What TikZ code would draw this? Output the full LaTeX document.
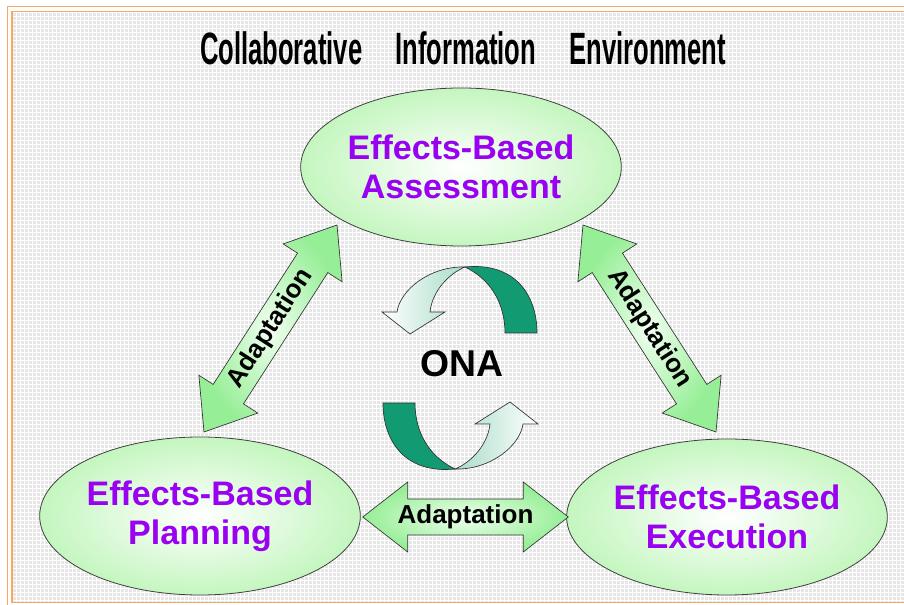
\documentclass[tikz,border=0pt]{standalone}
\usepackage{fontspec}
\setmainfont{Liberation Sans}
\usetikzlibrary{shapes.geometric,calc}
\definecolor{bgfill}{HTML}{E6E6E6}
\definecolor{frameorange}{HTML}{F8A860}
\definecolor{ellouter}{HTML}{C4F6BF}
\definecolor{arrowgreen}{HTML}{96EE96}
\definecolor{arrowlight}{HTML}{F0FFF0}
\definecolor{purpletext}{HTML}{9A00F2}
\definecolor{onadark}{HTML}{129A72}
\definecolor{onalight}{HTML}{A8DCC8}

\tikzset{
  phase/.style={ellipse, draw=black!75, line width=0.6pt, inner color=white, outer color=ellouter,
    inner sep=0pt, text=purpletext, font=\fontsize{25.5}{29.5}\selectfont\bfseries, align=center},
  blockarrow/.style={draw=black!80, line width=0.5pt, inner color=arrowlight, outer color=arrowgreen},
  adaptlabel/.style={font=\fontsize{19.5}{21}\selectfont\bfseries, inner sep=0pt},
  onadarkpiece/.style={fill=onadark, draw=black!80, line width=0.5pt},
  onalightpiece/.style={draw=black!80, line width=0.5pt},
}

\newcommand\adaptarrow[3]{%
  \path let \p1=($(#2)-(#1)$) in
    \pgfextra{\pgfmathsetmacro\blkangl{atan2(\y1,\x1)}\xdef\blkang{\blkangl}%
      \pgfmathsetmacro\blklenl{veclen(\x1,\y1)}\xdef\blklen{\blklenl}};
  \begin{scope}[shift={(#1)}, rotate=\blkang]
    \path[blockarrow] (0pt,0pt) -- (33.75pt,26.25pt) -- (33.75pt,13.5pt)
      -- ({\blklen pt-33.75pt},13.5pt) -- ({\blklen pt-33.75pt},26.25pt)
      -- ({\blklen pt},0pt) -- ({\blklen pt-33.75pt},-26.25pt) -- ({\blklen pt-33.75pt},-13.5pt)
      -- (33.75pt,-13.5pt) -- (33.75pt,-26.25pt) -- cycle;
  \end{scope}
  \node[adaptlabel, rotate=\blkang] (#3) at ($(#1)!0.5!(#2)$) {Adaptation};
}

\begin{document}
\begin{tikzpicture}[x=0.75pt,y=-0.75pt]
  % page and background
  \fill[white] (0,0) rectangle (904,605);
  \useasboundingbox (0,0) rectangle (904,605);
  \fill[bgfill] (12,11) rectangle (904,602);
  \begin{scope}
    \clip (12,11) rectangle (904,602);
    \draw[white, line width=0.5pt, step=3pt] (0,0) grid (904,605);
  \end{scope}
  \draw[frameorange, line width=1.1pt] (7.5,6.5) rectangle (915,615);
  \draw[frameorange, line width=1.1pt] (12,11.5) rectangle (910,602.5);

  % title
  \node[anchor=base, font=\fontsize{34}{40}\selectfont\bfseries, inner sep=0pt] (title) at (463,65)
    {\scalebox{0.565}[1]{Collaborative\hspace{44pt}Information\hspace{44pt}Environment}};

  % phases
  \node[phase, minimum width=226.5pt, minimum height=118.5pt] (assess) at (461,167) {Effects-Based\\Assessment};
  \node[phase, minimum width=229.5pt, minimum height=118.5pt] (plan) at (200,516) {Effects-Based\\Planning};
  \node[phase, minimum width=231pt, minimum height=117pt] (exec) at (727,517) {Effects-Based\\Execution};

  % arrow end points
  \coordinate (pl-up) at (204,432);
  \coordinate (as-left) at (337,225);
  \coordinate (as-right) at (583,225);
  \coordinate (ex-up) at (716,432);
  \coordinate (pl-right) at ($(plan.east)+(2,1)$);
  \coordinate (ex-left) at ($(exec.west)+(2,0)$);

  \adaptarrow{pl-up}{as-left}{lab-left}
  \adaptarrow{as-right}{ex-up}{lab-right}
  \adaptarrow{pl-right}{ex-left}{lab-bottom}

  % ONA cycle
  \path[onadarkpiece] (465,267) .. controls (515,262) and (537,295) .. (537,333)
    -- (505,333) .. controls (505,305) and (492,280) .. (465,267) -- cycle;
  \path[onalightpiece, left color=white, right color=onalight] (465,267) .. controls (430,266) and (400,290) .. (397,312)
    -- (382,312) -- (410,334) -- (445,312) -- (430,312) .. controls (432,292) and (448,274) .. (465,267) -- cycle;
  \begin{scope}[rotate around={180:(460,368)}]
    \path[onadarkpiece] (465,267) .. controls (515,262) and (537,295) .. (537,333)
      -- (505,333) .. controls (505,305) and (492,280) .. (465,267) -- cycle;
    \path[onalightpiece, left color=onalight, right color=white] (465,267) .. controls (430,266) and (400,290) .. (397,312)
      -- (382,312) -- (410,334) -- (445,312) -- (430,312) .. controls (432,292) and (448,274) .. (465,267) -- cycle;
  \end{scope}
  \node[font=\fontsize{28}{30}\selectfont\bfseries, inner sep=0pt] (ona) at (462,364) {ONA};
\end{tikzpicture}
\end{document}
